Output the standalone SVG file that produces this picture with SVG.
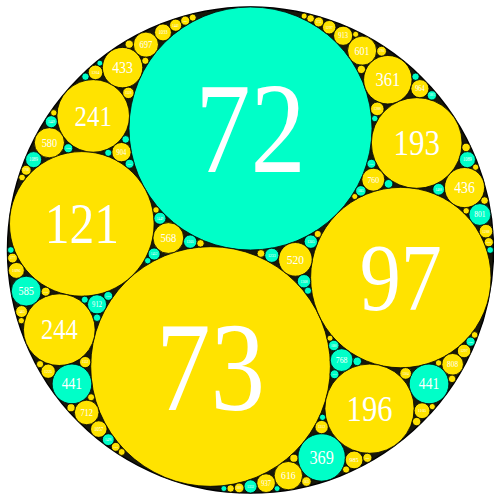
<svg xmlns="http://www.w3.org/2000/svg" width="494" height="496" viewBox="0 0 494 496">
<style>
.y{fill:#FFE300;stroke:#000;stroke-width:0.8}
.c{fill:#00FFC8;stroke:#000;stroke-width:0.8}
text{fill:#fff;font-family:"Liberation Serif","DejaVu Serif",serif;text-anchor:middle}
</style>
<rect width="494" height="496" fill="#fff"/>
<circle id="outer" cx="250.5" cy="250" r="243" fill="#18180a" stroke="#000" stroke-width="1.5"/>
<g id="n72"><circle class="c" cx="250.5" cy="128.5" r="121.5"/><text x="250.5" y="172.2" font-size="129.2" textLength="110.6" lengthAdjust="spacingAndGlyphs">72</text></g>
<g id="n73"><circle class="y" cx="210.55" cy="366.51" r="119.84"/><text x="210.55" y="409.6" font-size="127.5" textLength="109.1" lengthAdjust="spacingAndGlyphs">73</text></g>
<g id="n97"><circle class="y" cx="400.81" cy="277.56" r="90.19"/><text x="400.81" y="309.98" font-size="95.9" textLength="82.1" lengthAdjust="spacingAndGlyphs">97</text></g>
<g id="n121"><circle class="y" cx="81.81" cy="223.89" r="72.3"/><text x="81.81" y="243.45" font-size="57.84" textLength="74.2" lengthAdjust="spacingAndGlyphs">121</text></g>
<g id="n193"><circle class="y" cx="416.7" cy="142.98" r="45.33"/><text x="416.7" y="155.24" font-size="36.26" textLength="46.5" lengthAdjust="spacingAndGlyphs">193</text></g>
<g id="n196"><circle class="y" cx="369.52" cy="408.69" r="44.63"/><text x="369.52" y="420.76" font-size="35.7" textLength="45.8" lengthAdjust="spacingAndGlyphs">196</text></g>
<g id="n520"><circle class="y" cx="295.36" cy="259.35" r="16.82"/><text x="295.36" y="263.9" font-size="13.46" textLength="17.26" lengthAdjust="spacingAndGlyphs">520</text></g>
<g id="n241"><circle class="y" cx="93.21" cy="115.9" r="36.3"/><text x="93.21" y="125.72" font-size="29.04" textLength="37.24" lengthAdjust="spacingAndGlyphs">241</text></g>
<g id="n433"><circle class="y" cx="122.55" cy="67.61" r="20.2"/><text x="122.55" y="73.07" font-size="16.16" textLength="20.73" lengthAdjust="spacingAndGlyphs">433</text></g>
<g id="n580"><circle class="y" cx="49.4" cy="142.74" r="15.08"/><text x="49.4" y="146.82" font-size="12.06" textLength="15.47" lengthAdjust="spacingAndGlyphs">580</text></g>
<g id="n904"><circle class="y" cx="121.47" cy="152.16" r="9.68"/><text x="121.47" y="154.78" font-size="7.74" textLength="9.93" lengthAdjust="spacingAndGlyphs">904</text></g>
<g id="n697"><circle class="y" cx="145.91" cy="44.65" r="12.55"/><text x="145.91" y="48.04" font-size="10.04" textLength="12.88" lengthAdjust="spacingAndGlyphs">697</text></g>
<g id="n1033"><circle class="y" cx="162.99" cy="32.41" r="8.47"/><text x="162.99" y="34.21" font-size="5.34" textLength="9.14" lengthAdjust="spacingAndGlyphs">1033</text></g>
<g id="n1441"><circle class="y" cx="175.63" cy="25.21" r="6.07"/><text x="175.63" y="26.5" font-size="3.82" textLength="6.55" lengthAdjust="spacingAndGlyphs">1441</text></g>
<g id="n1921a"><circle class="y" cx="185.23" cy="20.66" r="4.55"/><text x="185.23" y="21.63" font-size="2.87" textLength="4.91" lengthAdjust="spacingAndGlyphs">1921</text></g>
<g id="n1204"><circle class="y" cx="95.5" cy="72.39" r="7.27"/><text x="95.5" y="73.94" font-size="4.58" textLength="7.84" lengthAdjust="spacingAndGlyphs">1204</text></g>
<g id="n1528"><circle class="y" cx="128.36" cy="92.88" r="5.73"/><text x="128.36" y="94.1" font-size="3.61" textLength="6.18" lengthAdjust="spacingAndGlyphs">1528</text></g>
<g id="n1089a"><circle class="c" cx="33.61" cy="159.63" r="8.03"/><text x="33.61" y="161.34" font-size="5.06" textLength="8.66" lengthAdjust="spacingAndGlyphs">1089</text></g>
<g id="n1768"><circle class="y" cx="26.19" cy="170.28" r="4.95"/><text x="26.19" y="171.33" font-size="3.12" textLength="5.34" lengthAdjust="spacingAndGlyphs">1768</text></g>
<g id="n1449a"><circle class="c" cx="51.27" cy="121.71" r="6.04"/><text x="51.27" y="123" font-size="3.81" textLength="6.52" lengthAdjust="spacingAndGlyphs">1449</text></g>
<g id="n1920"><circle class="c" cx="68.25" cy="148.24" r="4.56"/><text x="68.25" y="149.21" font-size="2.87" textLength="4.92" lengthAdjust="spacingAndGlyphs">1920</text></g>
<g id="n1953a"><circle class="c" cx="129.56" cy="163.77" r="4.48"/><text x="129.56" y="164.72" font-size="2.82" textLength="4.83" lengthAdjust="spacingAndGlyphs">1953</text></g>
<g id="n244"><circle class="y" cx="59.29" cy="329.67" r="35.85"/><text x="59.29" y="339.37" font-size="28.68" textLength="36.78" lengthAdjust="spacingAndGlyphs">244</text></g>
<g id="n441a"><circle class="c" cx="71.97" cy="383.9" r="19.84"/><text x="71.97" y="389.27" font-size="15.87" textLength="20.36" lengthAdjust="spacingAndGlyphs">441</text></g>
<g id="n712"><circle class="y" cx="86.68" cy="412.46" r="12.29"/><text x="86.68" y="415.78" font-size="9.83" textLength="12.61" lengthAdjust="spacingAndGlyphs">712</text></g>
<g id="n1057"><circle class="y" cx="98.77" cy="429.09" r="8.28"/><text x="98.77" y="430.85" font-size="5.22" textLength="8.93" lengthAdjust="spacingAndGlyphs">1057</text></g>
<g id="n1476"><circle class="c" cx="108.26" cy="439.66" r="5.93"/><text x="108.26" y="440.92" font-size="3.74" textLength="6.4" lengthAdjust="spacingAndGlyphs">1476</text></g>
<g id="n1969"><circle class="y" cx="115.73" cy="446.84" r="4.44"/><text x="115.73" y="447.79" font-size="2.8" textLength="4.79" lengthAdjust="spacingAndGlyphs">1969</text></g>
<g id="n1225"><circle class="y" cx="48.17" cy="371.2" r="7.14"/><text x="48.17" y="372.72" font-size="4.5" textLength="7.7" lengthAdjust="spacingAndGlyphs">1225</text></g>
<g id="n1552"><circle class="y" cx="85.16" cy="362.11" r="5.64"/><text x="85.16" y="363.31" font-size="3.55" textLength="6.09" lengthAdjust="spacingAndGlyphs">1552</text></g>
<g id="n585"><circle class="c" cx="26.19" cy="291.12" r="14.95"/><text x="26.19" y="295.16" font-size="11.96" textLength="15.34" lengthAdjust="spacingAndGlyphs">585</text></g>
<g id="n1096"><circle class="y" cx="16.37" cy="270.4" r="7.98"/><text x="16.37" y="272.1" font-size="5.03" textLength="8.61" lengthAdjust="spacingAndGlyphs">1096</text></g>
<g id="n1777"><circle class="y" cx="12.56" cy="258.07" r="4.92"/><text x="12.56" y="259.12" font-size="3.1" textLength="5.31" lengthAdjust="spacingAndGlyphs">1777</text></g>
<g id="n1465"><circle class="y" cx="21.6" cy="311.54" r="5.97"/><text x="21.6" y="312.81" font-size="3.76" textLength="6.44" lengthAdjust="spacingAndGlyphs">1465</text></g>
<g id="n1936"><circle class="y" cx="45.66" cy="291.67" r="4.52"/><text x="45.66" y="292.63" font-size="2.85" textLength="4.88" lengthAdjust="spacingAndGlyphs">1936</text></g>
<g id="n912"><circle class="c" cx="97.03" cy="304.36" r="9.59"/><text x="97.03" y="306.95" font-size="7.67" textLength="9.84" lengthAdjust="spacingAndGlyphs">912</text></g>
<g id="n1968"><circle class="c" cx="108.26" cy="295.93" r="4.45"/><text x="108.26" y="296.88" font-size="2.8" textLength="4.8" lengthAdjust="spacingAndGlyphs">1968</text></g>
<g id="n568"><circle class="y" cx="168.36" cy="238.02" r="15.4"/><text x="168.36" y="242.19" font-size="12.32" textLength="15.8" lengthAdjust="spacingAndGlyphs">568</text></g>
<g id="n1305a"><circle class="c" cx="190.17" cy="241.62" r="6.7"/><text x="190.17" y="243.05" font-size="4.22" textLength="7.23" lengthAdjust="spacingAndGlyphs">1305</text></g>
<g id="n1449b"><circle class="c" cx="159.94" cy="218.3" r="6.04"/><text x="159.94" y="219.59" font-size="3.81" textLength="6.52" lengthAdjust="spacingAndGlyphs">1449</text></g>
<g id="n1452"><circle class="c" cx="154.1" cy="254.02" r="6.02"/><text x="154.1" y="255.3" font-size="3.79" textLength="6.5" lengthAdjust="spacingAndGlyphs">1452</text></g>
<g id="n361"><circle class="y" cx="387.82" cy="79.7" r="24.23"/><text x="387.82" y="86.25" font-size="19.38" textLength="24.86" lengthAdjust="spacingAndGlyphs">361</text></g>
<g id="n601"><circle class="y" cx="362.09" cy="50.67" r="14.56"/><text x="362.09" y="54.61" font-size="11.65" textLength="14.94" lengthAdjust="spacingAndGlyphs">601</text></g>
<g id="n913"><circle class="y" cx="343.12" cy="35.74" r="9.58"/><text x="343.12" y="38.33" font-size="7.66" textLength="9.83" lengthAdjust="spacingAndGlyphs">913</text></g>
<g id="n1297a"><circle class="y" cx="329.19" cy="27.23" r="6.74"/><text x="329.19" y="28.67" font-size="4.25" textLength="7.27" lengthAdjust="spacingAndGlyphs">1297</text></g>
<g id="n1753"><circle class="y" cx="318.7" cy="21.97" r="4.99"/><text x="318.7" y="23.03" font-size="3.14" textLength="5.38" lengthAdjust="spacingAndGlyphs">1753</text></g>
<g id="n1780"><circle class="y" cx="381.56" cy="51.23" r="4.91"/><text x="381.56" y="52.28" font-size="3.09" textLength="5.3" lengthAdjust="spacingAndGlyphs">1780</text></g>
<g id="n964"><circle class="y" cx="419.9" cy="88.67" r="9.07"/><text x="419.9" y="91.12" font-size="7.26" textLength="9.31" lengthAdjust="spacingAndGlyphs">964</text></g>
<g id="n1881"><circle class="c" cx="431.88" cy="95.36" r="4.65"/><text x="431.88" y="96.35" font-size="2.93" textLength="5.02" lengthAdjust="spacingAndGlyphs">1881</text></g>
<g id="n1288a"><circle class="y" cx="377.28" cy="108.88" r="6.79"/><text x="377.28" y="110.33" font-size="4.28" textLength="7.33" lengthAdjust="spacingAndGlyphs">1288</text></g>
<g id="n436"><circle class="y" cx="464.52" cy="187.58" r="20.06"/><text x="464.52" y="193.01" font-size="16.05" textLength="20.58" lengthAdjust="spacingAndGlyphs">436</text></g>
<g id="n801"><circle class="c" cx="479.85" cy="214.51" r="10.92"/><text x="479.85" y="217.46" font-size="8.74" textLength="11.2" lengthAdjust="spacingAndGlyphs">801</text></g>
<g id="n1288b"><circle class="y" cx="485.95" cy="231.13" r="6.79"/><text x="485.95" y="232.58" font-size="4.28" textLength="7.33" lengthAdjust="spacingAndGlyphs">1288</text></g>
<g id="n1897"><circle class="y" cx="488.76" cy="242.19" r="4.61"/><text x="488.76" y="243.17" font-size="2.9" textLength="4.97" lengthAdjust="spacingAndGlyphs">1897</text></g>
<g id="n1089b"><circle class="c" cx="467.39" cy="159.63" r="8.03"/><text x="467.39" y="161.34" font-size="5.06" textLength="8.66" lengthAdjust="spacingAndGlyphs">1089</text></g>
<g id="n1488"><circle class="c" cx="438.63" cy="189.25" r="5.88"/><text x="438.63" y="190.5" font-size="3.7" textLength="6.34" lengthAdjust="spacingAndGlyphs">1488</text></g>
<g id="n760"><circle class="y" cx="373.28" cy="179.66" r="11.51"/><text x="373.28" y="182.77" font-size="9.21" textLength="11.81" lengthAdjust="spacingAndGlyphs">760</text></g>
<g id="n1665"><circle class="c" cx="360.83" cy="190.89" r="5.25"/><text x="360.83" y="192.01" font-size="3.31" textLength="5.66" lengthAdjust="spacingAndGlyphs">1665</text></g>
<g id="n1953b"><circle class="c" cx="371.44" cy="163.77" r="4.48"/><text x="371.44" y="164.72" font-size="2.82" textLength="4.83" lengthAdjust="spacingAndGlyphs">1953</text></g>
<g id="n369"><circle class="c" cx="321.62" cy="457.44" r="23.71"/><text x="321.62" y="463.85" font-size="18.97" textLength="24.33" lengthAdjust="spacingAndGlyphs">369</text></g>
<g id="n616"><circle class="y" cx="288.37" cy="475.64" r="14.2"/><text x="288.37" y="479.48" font-size="11.36" textLength="14.57" lengthAdjust="spacingAndGlyphs">616</text></g>
<g id="n937"><circle class="y" cx="266.06" cy="483.14" r="9.34"/><text x="266.06" y="485.67" font-size="7.47" textLength="9.58" lengthAdjust="spacingAndGlyphs">937</text></g>
<g id="n1332"><circle class="c" cx="250.5" cy="486.43" r="6.57"/><text x="250.5" y="487.83" font-size="4.14" textLength="7.09" lengthAdjust="spacingAndGlyphs">1332</text></g>
<g id="n1801"><circle class="y" cx="239.17" cy="487.87" r="4.86"/><text x="239.17" y="488.91" font-size="3.06" textLength="5.24" lengthAdjust="spacingAndGlyphs">1801</text></g>
<g id="n1825"><circle class="y" cx="306.42" cy="481.55" r="4.79"/><text x="306.42" y="482.57" font-size="3.02" textLength="5.17" lengthAdjust="spacingAndGlyphs">1825</text></g>
<g id="n985"><circle class="y" cx="354.11" cy="459.94" r="8.88"/><text x="354.11" y="462.34" font-size="7.1" textLength="9.11" lengthAdjust="spacingAndGlyphs">985</text></g>
<g id="n1921b"><circle class="y" cx="367.38" cy="457.83" r="4.55"/><text x="367.38" y="458.8" font-size="2.87" textLength="4.91" lengthAdjust="spacingAndGlyphs">1921</text></g>
<g id="n1312"><circle class="y" cx="321.62" cy="427.06" r="6.67"/><text x="321.62" y="428.48" font-size="4.2" textLength="7.2" lengthAdjust="spacingAndGlyphs">1312</text></g>
<g id="n441b"><circle class="c" cx="429.03" cy="383.9" r="19.84"/><text x="429.03" y="389.27" font-size="15.87" textLength="20.36" lengthAdjust="spacingAndGlyphs">441</text></g>
<g id="n808"><circle class="y" cx="452.6" cy="364.28" r="10.83"/><text x="452.6" y="367.21" font-size="8.66" textLength="11.11" lengthAdjust="spacingAndGlyphs">808</text></g>
<g id="n1297b"><circle class="y" cx="464.08" cy="350.98" r="6.74"/><text x="464.08" y="352.42" font-size="4.25" textLength="7.27" lengthAdjust="spacingAndGlyphs">1297</text></g>
<g id="n1908"><circle class="c" cx="470.58" cy="341.7" r="4.58"/><text x="470.58" y="342.68" font-size="2.89" textLength="4.94" lengthAdjust="spacingAndGlyphs">1908</text></g>
<g id="n1105"><circle class="y" cx="422.03" cy="410.75" r="7.92"/><text x="422.03" y="412.44" font-size="4.99" textLength="8.55" lengthAdjust="spacingAndGlyphs">1105</text></g>
<g id="n1504"><circle class="y" cx="405.61" cy="373.44" r="5.82"/><text x="405.61" y="374.68" font-size="3.67" textLength="6.28" lengthAdjust="spacingAndGlyphs">1504</text></g>
<g id="n768"><circle class="c" cx="341.63" cy="360.11" r="11.39"/><text x="341.63" y="363.19" font-size="9.11" textLength="11.69" lengthAdjust="spacingAndGlyphs">768</text></g>
<g id="n1680"><circle class="c" cx="333.81" cy="345.46" r="5.21"/><text x="333.81" y="346.57" font-size="3.28" textLength="5.62" lengthAdjust="spacingAndGlyphs">1680</text></g>
<g id="n1977"><circle class="c" cx="334.57" cy="374.27" r="4.42"/><text x="334.57" y="375.21" font-size="2.78" textLength="4.77" lengthAdjust="spacingAndGlyphs">1977</text></g>
<g id="n1233"><circle class="c" cx="271.78" cy="255.32" r="7.09"/><text x="271.78" y="256.83" font-size="4.47" textLength="7.65" lengthAdjust="spacingAndGlyphs">1233</text></g>
<g id="n1305b"><circle class="c" cx="310.83" cy="241.62" r="6.7"/><text x="310.83" y="243.05" font-size="4.22" textLength="7.23" lengthAdjust="spacingAndGlyphs">1305</text></g>
<g id="n1308"><circle class="c" cx="304" cy="281.21" r="6.69"/><text x="304" y="282.63" font-size="4.21" textLength="7.22" lengthAdjust="spacingAndGlyphs">1308</text></g>
<g id="small">
<circle class="y" cx="192.72" cy="17.62" r="3.54"/>
<circle class="y" cx="129.23" cy="44.21" r="4.13"/>
<circle class="y" cx="145.33" cy="60.78" r="3.59"/>
<circle class="c" cx="85.45" cy="76.69" r="3.67"/>
<circle class="c" cx="99.82" cy="63.13" r="2.95"/>
<circle class="y" cx="22.08" cy="177.49" r="3.34"/>
<circle class="y" cx="53.81" cy="112.82" r="3.21"/>
<circle class="c" cx="125.69" cy="139.37" r="3.78"/>
<circle class="c" cx="108.26" cy="152.8" r="3.56"/>
<circle class="y" cx="121.72" cy="451.99" r="3.45"/>
<circle class="y" cx="71.03" cy="407.76" r="4.05"/>
<circle class="y" cx="91.1" cy="397.28" r="3.52"/>
<circle class="y" cx="40.06" cy="364.14" r="3.61"/>
<circle class="y" cx="21.32" cy="320.67" r="3.17"/>
<circle class="c" cx="10.83" cy="250" r="3.33"/>
<circle class="c" cx="97.03" cy="317.7" r="3.74"/>
<circle class="c" cx="84.78" cy="299.66" r="3.53"/>
<circle class="y" cx="200.48" cy="243.33" r="3.75"/>
<circle class="y" cx="156.02" cy="209.92" r="3.22"/>
<circle class="c" cx="147.74" cy="260.7" r="3.21"/>
<circle class="y" cx="310.59" cy="18.5" r="3.84"/>
<circle class="y" cx="304.15" cy="16.11" r="3.04"/>
<circle class="y" cx="355.65" cy="34.29" r="3.03"/>
<circle class="y" cx="361.37" cy="69.37" r="4.16"/>
<circle class="c" cx="415.55" cy="76.69" r="3.67"/>
<circle class="c" cx="374.79" cy="118.54" r="3.19"/>
<circle class="y" cx="484.53" cy="200.55" r="3.8"/>
<circle class="y" cx="466.19" cy="210.82" r="3.24"/>
<circle class="c" cx="490.17" cy="250" r="3.33"/>
<circle class="y" cx="466.08" cy="147.41" r="4.25"/>
<circle class="y" cx="475.61" cy="167.19" r="3.14"/>
<circle class="c" cx="388.53" cy="183.85" r="4.31"/>
<circle class="y" cx="354.78" cy="196.52" r="3.01"/>
<circle class="y" cx="293.86" cy="458.22" r="4.07"/>
<circle class="c" cx="277.09" cy="488.57" r="2.95"/>
<circle class="y" cx="230.6" cy="488.43" r="3.73"/>
<circle class="c" cx="223.91" cy="488.57" r="2.95"/>
<circle class="y" cx="346.1" cy="469.5" r="3.59"/>
<circle class="c" cx="322.54" cy="417.31" r="3.13"/>
<circle class="y" cx="474.64" cy="334.93" r="3.31"/>
<circle class="y" cx="452.07" cy="378.86" r="3.76"/>
<circle class="y" cx="438.63" cy="362.95" r="3.21"/>
<circle class="y" cx="416.61" cy="421.58" r="4.19"/>
<circle class="y" cx="432.24" cy="406.61" r="3.1"/>
<circle class="y" cx="330.06" cy="338.18" r="2.98"/>
<circle class="c" cx="357.23" cy="361.36" r="4.27"/>
<circle class="y" cx="260.93" cy="253.48" r="3.91"/>
<circle class="y" cx="317.76" cy="233.99" r="3.6"/>
<circle class="c" cx="307.96" cy="290.7" r="3.59"/>
</g>
</svg>
